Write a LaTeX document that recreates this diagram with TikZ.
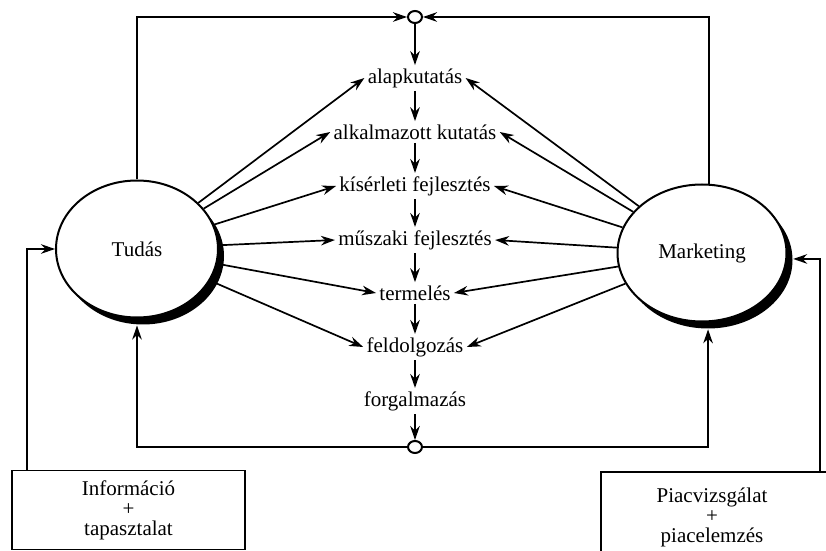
\documentclass[tikz,border=0pt]{standalone}
\usepackage{fontspec}
\setmainfont{Liberation Serif}
\usetikzlibrary{arrows.meta,shapes.geometric,shadows}
\tikzset{
  arr/.style={line width=0.85pt, -{Stealth[length=7pt,width=4.8pt]}},
  blob/.style={ellipse, draw, line width=1pt, fill=white, minimum height=68.5pt,
    drop shadow={shadow xshift=3pt, shadow yshift=-3.5pt, opacity=1, fill=black}},
  knot/.style={ellipse, draw, line width=1pt, minimum width=7pt, minimum height=6pt, inner sep=0pt},
  lbl/.style={inner sep=1.5pt},
  box/.style={draw, line width=0.85pt, align=center}
}

\begin{document}
\begin{tikzpicture}[x=0.5pt, y=-0.5pt, font=\fontsize{10.5}{10}\selectfont]
    \useasboundingbox (0,0) rectangle (826,551);

    \node[blob, minimum width=81pt] (tudas) at (137,249) {Tudás};
    \node[blob, minimum width=84.5pt] (mkt) at (702,253) {Marketing};

    \node[knot] (ctop) at (415,17) {};
    \node[knot] (cbot) at (415,447) {};

    \node[lbl] (alap) at (415,78) {alapkutatás};
    \node[lbl] (alk) at (415,132) {alkalmazott kutatás};
    \node[lbl] (kis) at (415,186) {kísérleti fejlesztés};
    \node[lbl] (musz) at (415,240) {műszaki fejlesztés};
    \node[lbl] (term) at (415,293) {termelés};
    \node[lbl] (feld) at (415,347) {feldolgozás};
    \node[lbl] (forg) at (415,401) {forgalmazás};

    \draw[arr] (ctop) -- (alap);
    \draw[arr] (alap) -- (alk);
    \draw[arr] (alk) -- (kis);
    \draw[arr] (kis) -- (musz);
    \draw[arr] (musz) -- (term);
    \draw[arr] (term) -- (feld);
    \draw[arr] (feld) -- (forg);
    \draw[arr] (forg) -- (cbot);

    \draw[arr] (tudas) -- (alap.west);
    \draw[arr] (tudas) -- (alk.west);
    \draw[arr] (tudas) -- (kis.west);
    \draw[arr] (tudas) -- (musz.west);
    \draw[arr] (tudas) -- (term.west);
    \draw[arr] (tudas) -- (feld.west);

    \draw[arr] (mkt) -- (alap.east);
    \draw[arr] (mkt) -- (alk.east);
    \draw[arr] (mkt) -- (kis.east);
    \draw[arr] (mkt) -- (musz.east);
    \draw[arr] (mkt) -- (term.east);
    \draw[arr] (mkt) -- (feld.east);

    \draw[arr] (tudas.north) |- (ctop);
    \draw[arr] (mkt.84) |- (ctop);
    \draw[arr, shorten >=3.5pt] (cbot) -| (tudas.south);
    \draw[arr, shorten >=3.5pt] (cbot) -| (mkt.-85);

    \node[box, minimum width=116.5pt, minimum height=39.5pt] (info) at (128.5,510) {Információ\\+\\tapasztalat};
    \coordinate (infotop) at (27,470);
    \draw[arr] (infotop) |- (tudas.west);

    \draw[line width=0.85pt] (601,570) |- (850,472);
    \node[align=center] (piac) at (712,517) {Piacvizsgálat\\+\\piacelemzés};
    \coordinate (piactop) at (820,472);
    \draw[arr, shorten >=3pt] (piactop) |- (mkt.-4);

\end{tikzpicture}
\end{document}
